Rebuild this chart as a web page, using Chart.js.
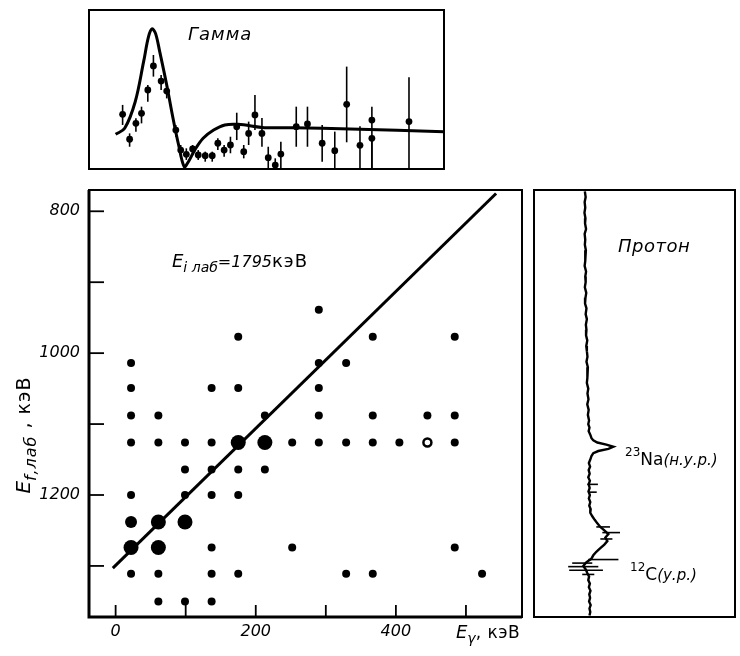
<!DOCTYPE html>
<html>
<head>
<meta charset="utf-8">
<script src="https://cdn.jsdelivr.net/npm/chart.js@4.4.0/dist/chart.umd.min.js"></script>
<style>
html, body { margin: 0; padding: 0; background: #fff; }
#wrap { position: relative; width: 740px; height: 656px; overflow: hidden; }
canvas { position: absolute; }
</style>
</head>
<body>
<div id="wrap">
<canvas id="gamma" width="375" height="180" style="left:80px;top:0px"></canvas>
<canvas id="main" width="535" height="476" style="left:0px;top:180px"></canvas>
<canvas id="proton" width="210" height="476" style="left:530px;top:180px"></canvas>
</div>
<script>
// оси
const xTicks = [0, 100, 200, 300, 400, 500];
const xTickLabels = ['0', '', '200', '', '400', ''];
const yTicks = [800, 900, 1000, 1100, 1200, 1300];
const yTickLabels = ['800', '', '1000', '', '1200', ''];

// матрица совпадений: E_gamma, E_f, вес (1 - мало, 3 - много)
const dotEg = [290,
  175, 367, 484,
  22, 290, 329,
  22, 137, 175, 290,
  22, 61, 213, 290, 367, 445, 484,
  22, 61, 99, 137, 175, 213, 252, 290, 329, 367, 405, 484,
  99, 137, 175, 213,
  22, 99, 137, 175,
  22, 61, 99,
  22, 61, 137, 252, 484,
  22, 61, 137, 175, 329, 367, 523,
  61, 99, 137];
const dotEf = [939,
  977, 977, 977,
  1014, 1014, 1014,
  1049, 1049, 1049, 1049,
  1088, 1088, 1088, 1088, 1088, 1088, 1088,
  1126, 1126, 1126, 1126, 1126, 1126, 1126, 1126, 1126, 1126, 1126, 1126,
  1164, 1164, 1164, 1164,
  1200, 1200, 1200, 1200,
  1238, 1238, 1238,
  1274, 1274, 1274, 1274, 1274,
  1311, 1311, 1311, 1311, 1311, 1311, 1311,
  1350, 1350, 1350];
const dotWeight = [1,
  1, 1, 1,
  1, 1, 1,
  1, 1, 1, 1,
  1, 1, 1, 1, 1, 1, 1,
  1, 1, 1, 1, 3, 3, 1, 1, 1, 1, 1, 1,
  1, 1, 1, 1,
  1, 1, 1, 1,
  2, 3, 3,
  3, 3, 1, 1, 1,
  1, 1, 1, 1, 1, 1, 1,
  1, 1, 1];
const openEg = [445];
const openEf = [1126];

// кинематическая линия
const lineEg = [-4, 543];
const lineEf = [1303, 775];

// гамма-спектр
const gammaFitE = [0, 13, 28, 40, 47, 52, 57, 63, 73, 82, 90, 98, 104, 113, 125, 140, 156, 175, 213, 254, 335, 469];
const gammaFitV = [21.8, 25.6, 42.3, 67.5, 83.2, 88.1, 85.3, 73.8, 52.8, 31.9, 15.1, 1.4, 4.6, 11.9, 19.3, 24.5, 27.7, 28.1, 26.0, 26.0, 25.2, 23.5];
const gammaE = [10, 20, 29, 37, 46, 54, 65, 73, 86, 93, 101, 110, 118, 128, 138, 146, 155, 164, 173, 183, 190, 199, 209, 218, 228, 236, 258, 274, 295, 313, 330, 349, 366, 366, 419];
const gammaV = [34.4, 18.7, 28.7, 35.0, 49.7, 64.8, 55.3, 49.0, 24.5, 11.9, 9.2, 12.6, 8.8, 8.4, 8.4, 16.2, 11.9, 15.1, 26.6, 10.9, 22.4, 34.0, 22.4, 7.1, 2.5, 9.4, 26.6, 28.3, 16.2, 11.5, 40.7, 14.9, 30.8, 19.3, 29.8];
const gammaLo = [27.7, 14.0, 23.4, 28.7, 42.3, 58.1, 49.7, 44.4, 20.3, 7.7, 5.7, 8.8, 5.7, 4.6, 4.6, 11.9, 7.7, 9.9, 18.2, 6.7, 15.1, 24.5, 14.0, 0.4, 0, 0, 14.0, 14.0, 4.6, 0, 16.8, 0, 0, 0, 0];
const gammaHi = [40.3, 22.4, 31.9, 39.2, 52.8, 71.7, 59.1, 53.5, 27.7, 15.1, 13.0, 15.1, 11.9, 10.9, 10.9, 19.3, 15.1, 20.3, 35.4, 15.1, 29.8, 46.5, 32.1, 14.0, 6.7, 17.2, 39.2, 39.2, 27.7, 23.5, 64.4, 26.9, 39.2, 19.3, 57.7];

// протонный спектр
const protonE = [772, 780, 787, 795, 802, 810, 817, 825, 832, 840, 847, 855, 862, 870, 877, 885, 892, 900, 907, 915,
  922, 930, 937, 945, 952, 960, 967, 975, 982, 990, 997, 1005, 1012, 1020, 1027, 1035, 1042, 1050, 1057, 1065,
  1072, 1080, 1087, 1095, 1100, 1105, 1110, 1115, 1120, 1123, 1126,
  1129, 1132, 1135, 1138, 1141, 1145, 1150, 1155, 1160, 1165, 1170, 1175, 1180, 1185, 1190, 1195, 1200, 1205, 1210, 1215,
  1220, 1225, 1230, 1235, 1240, 1245, 1250, 1255, 1260, 1265, 1270, 1275, 1280, 1285, 1290, 1295, 1300, 1305, 1310, 1315,
  1320, 1325, 1330, 1335, 1340, 1345, 1350, 1355, 1360, 1365, 1370];
const protonCounts = [25.3, 25.7, 25.2, 25.5, 25.1, 25.6, 25.4, 25.9, 25.2, 25.5, 25.3, 25.8, 25.4, 25.6, 25.2, 25.9, 25.5, 25.7, 25.3, 26.0,
  25.6, 25.4, 26.1, 25.7, 26.3, 25.8, 26.1, 25.9, 26.5, 26.0, 26.3, 26.6, 26.1, 26.8, 26.4, 26.7, 26.3, 27.0, 26.6, 27.1,
  26.5, 27.2, 26.8, 27.4, 27.0, 27.6, 27.2, 28.0, 28.6, 29.5, 31.5,
  36.0, 39.5, 37.0, 32.0, 29.5, 28.6, 28.0, 27.3, 27.9, 27.2, 27.7, 27.0, 27.8, 27.2, 27.7, 27.1, 27.8, 27.3, 28.0, 27.5,
  28.2, 28.0, 29.0, 30.2, 31.5, 33.0, 35.0, 37.0, 35.5, 36.5, 35.0, 33.0, 31.0, 29.5, 28.5, 26.0, 24.5, 25.8, 26.5, 27.4,
  27.0, 27.8, 27.3, 28.1, 27.5, 27.9, 27.4, 28.2, 27.6, 28.0, 27.6];
const protonErrE = [1185, 1196, 1245, 1253, 1262, 1291, 1296, 1301, 1306, 1312];
const protonErrLo = [26.5, 27.0, 31.0, 34.0, 33.0, 27.0, 19.0, 17.0, 17.5, 24.0];
const protonErrHi = [31.8, 31.2, 37.8, 42.8, 39.0, 42.0, 29.0, 32.0, 34.3, 30.0];

const SANS = '"DejaVu Sans", sans-serif';
const pts = (xs, ys) => xs.map((x, i) => ({ x: x, y: ys[i] }));

function drawRuns(ctx, x, y, runs) {
    ctx.save();
    ctx.fillStyle = '#000';
    ctx.textAlign = 'left';
    ctx.textBaseline = 'alphabetic';
    for (const r of runs) {
        ctx.font = r[1];
        ctx.letterSpacing = (r[3] || 0) + 'px';
        ctx.fillText(r[0], x, y + (r[2] || 0));
        x += ctx.measureText(r[0]).width;
    }
    ctx.restore();
}
function runsWidth(ctx, runs) {
    let w = 0;
    ctx.save();
    for (const r of runs) {
        ctx.font = r[1];
        ctx.letterSpacing = (r[3] || 0) + 'px';
        w += ctx.measureText(r[0]).width;
    }
    ctx.restore();
    return w;
}
function frame(chart, lw) {
    const a = chart.chartArea, ctx = chart.ctx;
    ctx.save();
    ctx.strokeStyle = '#000';
    ctx.lineWidth = lw;
    ctx.strokeRect(a.left, a.top, a.right - a.left, a.bottom - a.top);
    ctx.restore();
}

const baseOpts = {
    responsive: false,
    animation: false,
    devicePixelRatio: 1,
    plugins: { legend: { display: false }, tooltip: { enabled: false } }
};

// ---------- верхняя панель: гамма ----------
const gammaDecor = {
    id: 'gammaDecor',
    afterDatasetsDraw(chart) {
        const ctx = chart.ctx, xs = chart.scales.x, ys = chart.scales.y;
        ctx.save();
        ctx.strokeStyle = '#000';
        ctx.lineWidth = 1.6;
        gammaE.forEach((e, i) => {
            const px = xs.getPixelForValue(e);
            ctx.beginPath();
            ctx.moveTo(px, ys.getPixelForValue(gammaLo[i]));
            ctx.lineTo(px, ys.getPixelForValue(gammaHi[i]));
            ctx.stroke();
        });
        ctx.restore();
        frame(chart, 2);
        drawRuns(ctx, 108, 40, [['Гамма', 'italic 18px ' + SANS, 0, 1]]);
    }
};

new Chart(document.getElementById('gamma'), {
    type: 'scatter',
    data: {
        datasets: [
            { data: pts(gammaFitE, gammaFitV), showLine: true, tension: 0.35, borderColor: '#000', borderWidth: 3, pointRadius: 0 },
            { data: pts(gammaE, gammaV), backgroundColor: '#000', borderWidth: 0, pointRadius: 3.4 }
        ]
    },
    options: Object.assign({}, baseOpts, {
        layout: { padding: { left: 9, top: 10, right: 11, bottom: 11 } },
        scales: {
            x: { type: 'linear', min: -38, max: 469, display: false },
            y: { type: 'linear', min: 0, max: 100, display: false }
        }
    }),
    plugins: [gammaDecor]
});

// ---------- основная панель ----------
const mainDecor = {
    id: 'mainDecor',
    afterDraw(chart) {
        const ctx = chart.ctx, a = chart.chartArea, xs = chart.scales.x, ys = chart.scales.y;
        ctx.save();
        ctx.strokeStyle = '#000';
        ctx.lineWidth = 2;
        ctx.strokeRect(a.left, a.top, a.right - a.left, a.bottom - a.top);
        ctx.lineWidth = 3;
        ctx.beginPath();
        ctx.moveTo(a.left, a.top);
        ctx.lineTo(a.left, a.bottom);
        ctx.lineTo(a.right, a.bottom);
        ctx.stroke();
        ctx.lineWidth = 1.8;
        yTicks.forEach(v => {
            const py = ys.getPixelForValue(v);
            ctx.beginPath(); ctx.moveTo(a.left, py); ctx.lineTo(a.left + 15, py); ctx.stroke();
        });
        xTicks.forEach(v => {
            const px = xs.getPixelForValue(v);
            ctx.beginPath(); ctx.moveTo(px, a.bottom); ctx.lineTo(px, a.bottom - 12); ctx.stroke();
        });
        ctx.restore();

        drawRuns(ctx, 172, 87, [
            ['E', 'italic 18px ' + SANS],
            ['i лаб', 'italic 14px ' + SANS, 5],
            ['=1795', 'italic 16px ' + SANS],
            ['кэВ', '18px ' + SANS, 0, 1]
        ]);
        drawRuns(ctx, 456, 458, [
            ['E', 'italic 18px ' + SANS],
            ['γ', 'italic 14px ' + SANS, 5],
            [', кэВ', '17px ' + SANS, 0, 0.5]
        ]);
        const yt = [
            ['E', 'italic 20px ' + SANS],
            ['f,лаб', 'italic 16px ' + SANS, 6, 1],
            [' , кэВ', '19px ' + SANS, 0, 1]
        ];
        ctx.save();
        ctx.translate(30, 255);
        ctx.rotate(-Math.PI / 2);
        drawRuns(ctx, -runsWidth(ctx, yt) / 2, 0, yt);
        ctx.restore();
    }
};

new Chart(document.getElementById('main'), {
    type: 'scatter',
    data: {
        datasets: [
            { data: pts(lineEg, lineEf), showLine: true, borderColor: '#000', borderWidth: 3, pointRadius: 0 },
            {
                data: pts(dotEg, dotEf), backgroundColor: '#000', borderWidth: 0,
                pointRadius: c => [0, 4, 6, 7.5][dotWeight[c.dataIndex]]
            },
            { data: pts(openEg, openEf), backgroundColor: '#fff', borderColor: '#000', borderWidth: 2.5, pointRadius: 4 }
        ]
    },
    options: Object.assign({}, baseOpts, {
        layout: { padding: { left: 0, top: 10, right: 13, bottom: 0 } },
        scales: {
            x: {
                type: 'linear', min: -38, max: 580,
                grid: { display: false, drawTicks: false }, border: { display: false },
                afterBuildTicks: s => { s.ticks = xTicks.map(v => ({ value: v })); },
                afterFit: s => { s.height = 39; s.paddingLeft = 0; s.paddingRight = 0; },
                ticks: {
                    autoSkip: false, maxRotation: 0, padding: 5, color: '#000',
                    font: { family: SANS, size: 16, style: 'italic' },
                    callback: (v, i) => xTickLabels[i]
                }
            },
            y: {
                type: 'linear', min: 770, max: 1372, reverse: true,
                grid: { display: false, drawTicks: false }, border: { display: false },
                afterBuildTicks: s => { s.ticks = yTicks.map(v => ({ value: v })); },
                afterFit: s => { s.width = 89; s.paddingTop = 0; s.paddingBottom = 0; },
                ticks: {
                    autoSkip: false, padding: 9, color: '#000',
                    font: { family: SANS, size: 16, style: 'italic' },
                    callback: (v, i) => yTickLabels[i]
                }
            }
        }
    }),
    plugins: [mainDecor]
});

// ---------- правая панель: протоны ----------
const protonDecor = {
    id: 'protonDecor',
    afterDatasetsDraw(chart) {
        const ctx = chart.ctx, xs = chart.scales.x, ys = chart.scales.y;
        ctx.save();
        ctx.strokeStyle = '#000';
        ctx.lineWidth = 1.6;
        protonErrE.forEach((e, i) => {
            const py = ys.getPixelForValue(e);
            ctx.beginPath();
            ctx.moveTo(xs.getPixelForValue(protonErrLo[i]), py);
            ctx.lineTo(xs.getPixelForValue(protonErrHi[i]), py);
            ctx.stroke();
        });
        ctx.restore();
        frame(chart, 2);
        drawRuns(ctx, 88, 72, [['Протон', 'italic 18px ' + SANS, 0, 0.5]]);
        drawRuns(ctx, 95, 285, [
            ['23', '12px ' + SANS, -9],
            ['Na', '17px ' + SANS],
            ['(н.у.р.)', 'italic 15px ' + SANS]
        ]);
        drawRuns(ctx, 100, 400, [
            ['12', '12px ' + SANS, -9],
            ['C', '17px ' + SANS],
            ['(у.р.)', 'italic 15px ' + SANS]
        ]);
    }
};

new Chart(document.getElementById('proton'), {
    type: 'scatter',
    data: {
        datasets: [
            { data: pts(protonCounts, protonE), showLine: true, borderColor: '#000', borderWidth: 2.4, pointRadius: 0, tension: 0 }
        ]
    },
    options: Object.assign({}, baseOpts, {
        layout: { padding: { left: 4, top: 10, right: 5, bottom: 39 } },
        scales: {
            x: { type: 'linear', min: 0, max: 100, display: false },
            y: { type: 'linear', min: 770, max: 1372, reverse: true, display: false }
        }
    }),
    plugins: [protonDecor]
});
</script>
</body>
</html>
